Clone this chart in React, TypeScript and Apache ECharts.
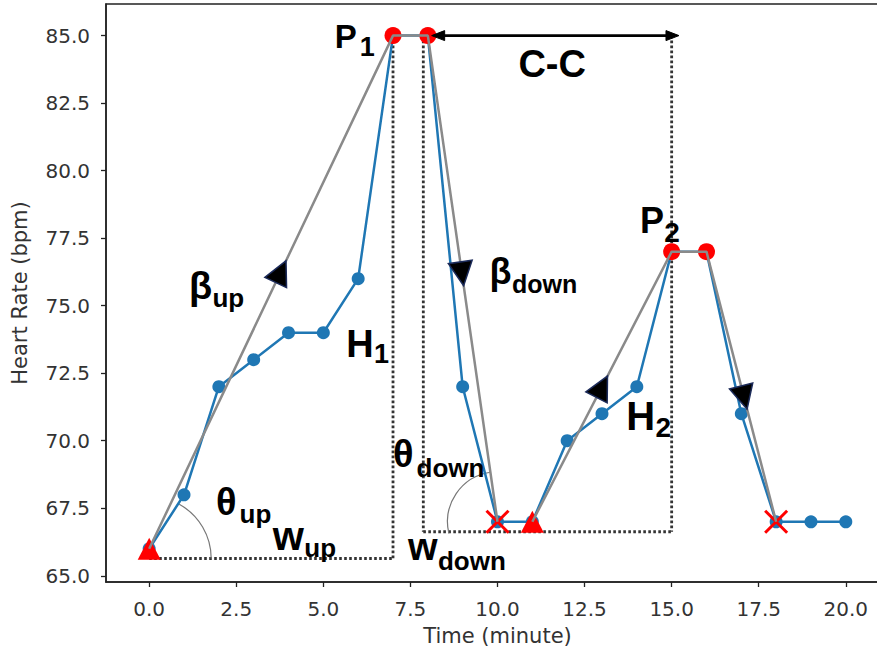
import React, { useEffect, useRef } from "react";
import * as echarts from "echarts";

// Heart rate sampled once a minute
const minutes = [0, 1, 2, 3, 4, 5, 6, 7, 8, 9, 10, 11, 12, 13, 14, 15, 16, 17, 18, 19, 20];
const heartRate = [66, 68, 72, 73, 74, 74, 76, 85, 85, 72, 67, 67, 70, 71, 72, 77, 77, 71, 67, 67, 67];

const xTicks = [0, 2.5, 5, 7.5, 10, 12.5, 15, 17.5, 20];
const yTicks = [65, 67.5, 70, 72.5, 75, 77.5, 80, 82.5, 85];

// peaks (P1, P2), episode onsets and recovery ends
const peakPoints = [[7, 85], [8, 85], [15, 77], [16, 77]];
const onsetPoints = [[0, 66], [11, 67]];
const recoveryPoints = [[10, 67], [18, 67]];

// piecewise trend of each heart-rate episode
const episode1Trend = [[0, 66], [7, 85], [8, 85], [10, 67]];
const episode2Trend = [[11, 67], [15, 77], [16, 77], [18, 67]];

// direction heads on the trend slopes: [x0, y0, x1, y1, fraction along]
const slopeArrows = [
  [0, 66, 7, 85, 0.54],
  [8, 85, 10, 67, 0.49],
  [11, 67, 15, 77, 0.5],
  [16, 77, 18, 67, 0.54],
];

// dotted guides: [x0, y0, x1, y1]
const guideLines = [
  [0, 65.64, 7, 65.64],
  [7, 85, 7, 65.64],
  [7.87, 85, 7.87, 66.63],
  [7.87, 66.63, 15, 66.63],
  [15, 85, 15, 66.63],
];

// C-C span between the two peaks: [x start, x end, y]
const cycleSpan = [8.11, 15.21, 85];

// angle arcs: [centre x, centre y, start deg, end deg]
const angleArcs = [
  [0, 65.64, -61, 0],
  [10, 67, 166.5, 262],
];

// annotations: symbol, subscript and anchor (left edge, baseline)
const labelText = [
  ["P", "1"],
  ["C-C", ""],
  ["β", "up"],
  ["H", "1"],
  ["β", "down"],
  ["θ", "down"],
  ["θ", "up"],
  ["w", "up"],
  ["w", "down"],
  ["P", "2"],
  ["H", "2"],
];
const labelAnchorX = [5.33, 10.6, 1.14, 5.66, 9.77, 7.0, 1.92, 3.55, 7.43, 14.09, 13.7];
const labelAnchorY = [84.53, 83.47, 75.23, 73.1, 75.79, 69.03, 67.25, 65.95, 65.58, 77.69, 70.4];

// typography of each annotation: main size, subscript size, subscript offset (px)
const labelLook = [
  { size: 33, sub: 27, dx: 25, dy: 8.5 },
  { size: 38, sub: 0, dx: 0, dy: 0 },
  { size: 38, sub: 26, dx: 23.5, dy: 7.6 },
  { size: 38, sub: 27, dx: 27.6, dy: 6 },
  { size: 36, sub: 25, dx: 22.5, dy: 8.6 },
  { size: 38, sub: 26, dx: 23.5, dy: 10 },
  { size: 38, sub: 26, dx: 23.5, dy: 7.5 },
  { size: 40, sub: 26, dx: 31.5, dy: 6.5 },
  { size: 38, sub: 26, dx: 30, dy: 10 },
  { size: 36, sub: 28, dx: 24.2, dy: 9 },
  { size: 40, sub: 28, dx: 29.2, dy: 7 },
];

const ARC_RADIUS = [62, 50];
const LABEL_FONT = "'Liberation Sans', Arial, Helvetica, sans-serif";
const AXIS_FONT = "'DejaVu Sans', sans-serif";
const AXIS_COLOR = "#222";
const TEXT_COLOR = "#333";
const CENTRAL = 0.3465; // central baseline above alphabetic baseline, in em

export default function App() {
  const ref = useRef<HTMLDivElement>(null);

  useEffect(() => {
    document.body.style.margin = "0";
    const chart = echarts.init(ref.current!, null, { renderer: "svg" });

    const renderGuide = (params: any, api: any) => {
      const [x0, y0, x1, y1] = guideLines[params.dataIndex];
      const a = api.coord([x0, y0]);
      const b = api.coord([x1, y1]);
      return {
        type: "line",
        shape: { x1: a[0], y1: a[1], x2: b[0], y2: b[1] },
        style: { stroke: "#333", lineWidth: 2.8, lineDash: [2.6, 2.4], fill: "none" },
      };
    };

    const renderArc = (params: any, api: any) => {
      const [cx, cy, s, e] = angleArcs[params.dataIndex];
      const c = api.coord([cx, cy]);
      return {
        type: "arc",
        shape: {
          cx: c[0],
          cy: c[1],
          r: ARC_RADIUS[params.dataIndex],
          startAngle: (s * Math.PI) / 180,
          endAngle: (e * Math.PI) / 180,
          clockwise: true,
        },
        style: { stroke: "#777", lineWidth: 1.2, fill: "none" },
      };
    };

    const renderSlopeArrow = (params: any, api: any) => {
      const [x0, y0, x1, y1, t] = slopeArrows[params.dataIndex];
      const a = api.coord([x0, y0]);
      const b = api.coord([x1, y1]);
      const dx = b[0] - a[0];
      const dy = b[1] - a[1];
      const len = Math.hypot(dx, dy);
      const ux = dx / len;
      const uy = dy / len;
      const nx = -uy;
      const ny = ux;
      const cx = a[0] + dx * t;
      const cy = a[1] + dy * t;
      const L = 24;
      const W = 24;
      const bx = cx - (ux * L) / 2;
      const by = cy - (uy * L) / 2;
      return {
        type: "polygon",
        shape: {
          points: [
            [cx + (ux * L) / 2, cy + (uy * L) / 2],
            [bx + (nx * W) / 2, by + (ny * W) / 2],
            [bx - (nx * W) / 2, by - (ny * W) / 2],
          ],
        },
        style: { fill: "#000", stroke: "#1c2b5a", lineWidth: 1.5 },
      };
    };

    const renderCross = (params: any, api: any) => {
      const p = api.coord(recoveryPoints[params.dataIndex]);
      const h = 11;
      const st = { stroke: "#ff0000", lineWidth: 3, fill: "none" };
      return {
        type: "group",
        children: [
          { type: "line", shape: { x1: p[0] - h, y1: p[1] - h, x2: p[0] + h, y2: p[1] + h }, style: st },
          { type: "line", shape: { x1: p[0] - h, y1: p[1] + h, x2: p[0] + h, y2: p[1] - h }, style: st },
        ],
      };
    };

    const renderSpan = (_params: any, api: any) => {
      const [xs, xe, yc] = cycleSpan;
      const a = api.coord([xs, yc]);
      const b = api.coord([xe, yc]);
      const hl = 13;
      const hw = 5;
      return {
        type: "group",
        children: [
          {
            type: "line",
            shape: { x1: a[0] + hl - 1, y1: a[1], x2: b[0] - hl + 1, y2: b[1] },
            style: { stroke: "#000", lineWidth: 2.8, fill: "none" },
          },
          {
            type: "polygon",
            shape: { points: [[a[0], a[1]], [a[0] + hl, a[1] - hw], [a[0] + hl, a[1] + hw]] },
            style: { fill: "#000", stroke: "#000", lineWidth: 1 },
          },
          {
            type: "polygon",
            shape: { points: [[b[0], b[1]], [b[0] - hl, b[1] - hw], [b[0] - hl, b[1] + hw]] },
            style: { fill: "#000", stroke: "#000", lineWidth: 1 },
          },
        ],
      };
    };

    const renderLabel = (params: any, api: any) => {
      const i = params.dataIndex;
      const [main, sub] = labelText[i];
      const look = labelLook[i];
      const p = api.coord([labelAnchorX[i], labelAnchorY[i]]);
      const children: any[] = [
        {
          type: "text",
          x: p[0],
          y: p[1] - CENTRAL * look.size,
          style: {
            text: main,
            fontSize: look.size,
            fontWeight: "bold",
            fontFamily: LABEL_FONT,
            fill: "#000",
            align: "left",
            verticalAlign: "middle",
          },
        },
      ];
      if (sub) {
        children.push({
          type: "text",
          x: p[0] + look.dx,
          y: p[1] + look.dy - CENTRAL * look.sub,
          style: {
            text: sub,
            fontSize: look.sub,
            fontWeight: "bold",
            fontFamily: LABEL_FONT,
            fill: "#000",
            align: "left",
            verticalAlign: "middle",
          },
        });
      }
      return { type: "group", children };
    };

    chart.setOption({
      animation: false,
      grid: {
        left: 106,
        top: 4,
        right: -12,
        bottom: 70,
        show: true,
        borderColor: AXIS_COLOR,
        borderWidth: 1.5,
        outerBoundsMode: "none",
      },
      xAxis: {
        type: "value",
        min: -1.24,
        max: 21.24,
        name: "Time (minute)",
        nameLocation: "middle",
        nameGap: 43.5,
        nameTextStyle: { fontFamily: AXIS_FONT, fontSize: 21, color: TEXT_COLOR },
        axisLine: { show: true, onZero: false, lineStyle: { color: AXIS_COLOR, width: 1.5 } },
        axisTick: { show: true, customValues: xTicks, length: 5, lineStyle: { color: AXIS_COLOR, width: 1.3 } },
        axisLabel: {
          customValues: xTicks,
          formatter: (v: number) => v.toFixed(1),
          margin: 17,
          fontFamily: AXIS_FONT,
          fontSize: 20,
          color: TEXT_COLOR,
        },
        splitLine: { show: false },
      },
      yAxis: {
        type: "value",
        min: 64.77,
        max: 86.17,
        name: "Heart Rate (bpm)",
        nameLocation: "middle",
        nameRotate: 90,
        nameGap: 76,
        nameTextStyle: { fontFamily: AXIS_FONT, fontSize: 21, color: TEXT_COLOR },
        axisLine: { show: true, onZero: false, lineStyle: { color: AXIS_COLOR, width: 1.5 } },
        axisTick: { show: true, customValues: yTicks, length: 5, lineStyle: { color: AXIS_COLOR, width: 1.3 } },
        axisLabel: {
          customValues: yTicks,
          formatter: (v: number) => v.toFixed(1),
          margin: 16,
          fontFamily: AXIS_FONT,
          fontSize: 20,
          color: TEXT_COLOR,
        },
        splitLine: { show: false },
      },
      series: [
        {
          type: "custom",
          name: "guides",
          z: 1,
          renderItem: renderGuide,
          data: guideLines,
          silent: true,
        },
        {
          type: "custom",
          name: "angles",
          z: 1,
          renderItem: renderArc,
          data: angleArcs,
          silent: true,
        },
        {
          type: "line",
          name: "heart rate",
          z: 2,
          data: minutes.map((m, i) => [m, heartRate[i]]),
          symbol: "circle",
          symbolSize: 13,
          showSymbol: true,
          color: "#1f77b4",
          lineStyle: { color: "#1f77b4", width: 2.5 },
          itemStyle: { color: "#1f77b4", opacity: 1 },
        },
        {
          type: "scatter",
          name: "peaks",
          z: 3,
          data: peakPoints,
          symbol: "circle",
          symbolSize: 17,
          itemStyle: { color: "#ff0000", opacity: 1 },
        },
        {
          type: "scatter",
          name: "onsets",
          z: 3,
          data: onsetPoints,
          symbol: "triangle",
          symbolSize: [23, 22],
          itemStyle: { color: "#ff0000", opacity: 1 },
        },
        {
          type: "custom",
          name: "recoveries",
          z: 3,
          renderItem: renderCross,
          data: recoveryPoints,
        },
        {
          type: "line",
          name: "trend 1",
          z: 4,
          data: episode1Trend,
          symbol: "none",
          lineStyle: { color: "#8a8a8a", width: 2.5 },
        },
        {
          type: "line",
          name: "trend 2",
          z: 4,
          data: episode2Trend,
          symbol: "none",
          lineStyle: { color: "#8a8a8a", width: 2.5 },
        },
        {
          type: "custom",
          name: "slope arrows",
          z: 5,
          renderItem: renderSlopeArrow,
          data: slopeArrows,
        },
        {
          type: "custom",
          name: "cycle span",
          z: 5,
          renderItem: renderSpan,
          data: [[cycleSpan[0], cycleSpan[2]]],
        },
        {
          type: "custom",
          name: "labels",
          z: 6,
          renderItem: renderLabel,
          data: labelAnchorX.map((x, i) => [x, labelAnchorY[i]]),
        },
      ],
    });

    return () => chart.dispose();
  }, []);

  return <div ref={ref} style={{ width: 877, height: 652 }} />;
}
